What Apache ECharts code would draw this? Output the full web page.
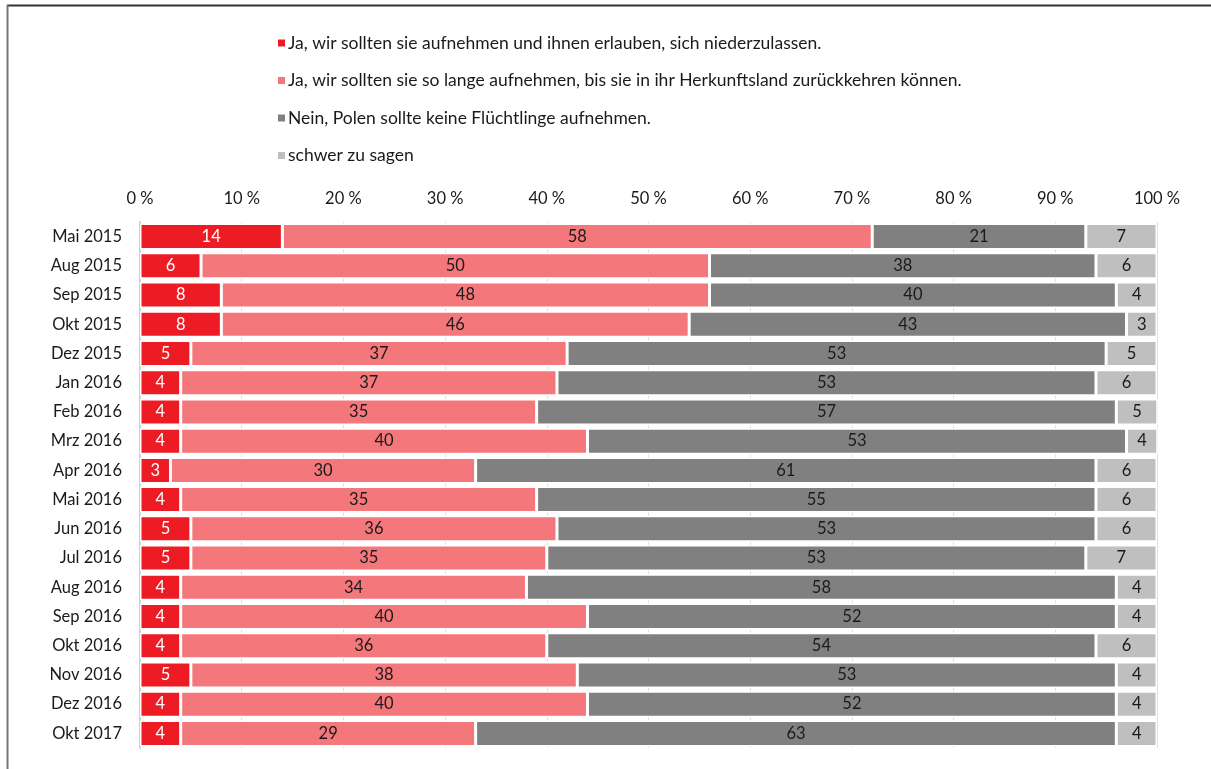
<!DOCTYPE html>
<html>
<head>
<meta charset="utf-8">
<script src="https://cdn.jsdelivr.net/npm/echarts@6/dist/echarts.min.js"></script>
<style>html,body{margin:0;padding:0;background:#fff}#c{width:1211px;height:769px}</style>
</head>
<body>
<div id="c"></div>
<script>
const categories = ['Mai 2015','Aug 2015','Sep 2015','Okt 2015','Dez 2015','Jan 2016','Feb 2016','Mrz 2016','Apr 2016','Mai 2016','Jun 2016','Jul 2016','Aug 2016','Sep 2016','Okt 2016','Nov 2016','Dez 2016','Okt 2017'];
const seriesNames = [
  'Ja, wir sollten sie aufnehmen und ihnen erlauben, sich niederzulassen.',
  'Ja, wir sollten sie so lange aufnehmen, bis sie in ihr Herkunftsland zurückkehren können.',
  'Nein, Polen sollte keine Flüchtlinge aufnehmen.',
  'schwer zu sagen'
];
const jaBleiben = [14,6,8,8,5,4,4,4,3,4,5,5,4,4,4,5,4,4];
const jaZeitweise = [58,50,48,46,37,37,35,40,30,35,36,35,34,40,36,38,40,29];
const nein = [21,38,40,43,53,53,57,53,61,55,53,53,58,52,54,53,52,63];
const schwer = [7,6,4,3,5,6,5,4,6,6,6,7,4,4,6,4,4,4];
const colors = ['#ED1C24','#F4777B','#808080','#BFBFBF'];
const labelColors = ['#ffffff','#1a1a1a','#1a1a1a','#1a1a1a'];
const FONT = 'Lato';

const dataSets = [jaBleiben, jaZeitweise, nein, schwer];
const chart = echarts.init(document.getElementById('c'));
chart.setOption({
  animation: false,
  textStyle: {fontFamily: FONT},
  graphic: [
    {type:'line', shape:{x1:7,y1:5.5,x2:1211,y2:5.5}, style:{stroke:'#333', lineWidth:2}},
    {type:'line', shape:{x1:7.5,y1:5,x2:7.5,y2:769}, style:{stroke:'#777', lineWidth:2}}
  ],
  legend: {
    orient: 'vertical',
    left: 271,
    top: 28,
    itemWidth: 9,
    itemHeight: 9,
    itemGap: 17.5,
    icon: 'rect',
    textStyle: {fontFamily: FONT, fontSize: 17.5, color: '#1a1a1a', lineHeight: 20, padding:[0,0,0,-3]},
    data: seriesNames
  },
  grid: {left: 140, right: 54, top: 222, bottom: 21},
  xAxis: {
    type: 'value', position: 'top', min: 0, max: 100, interval: 10,
    axisLine: {show: false}, axisTick: {show: false},
    axisLabel: {formatter: '{value} %', fontFamily: FONT, fontSize: 16.5, color: '#1a1a1a', margin: 15},
    splitLine: {lineStyle: {color: '#e0e0e0', width: 1}}
  },
  yAxis: {
    type: 'category', inverse: true, data: categories,
    axisLine: {show: true, lineStyle: {color: '#d0d0d0', width: 2}},
    axisTick: {show: false},
    axisLabel: {fontFamily: FONT, fontSize: 16.5, color: '#1a1a1a', margin: 18}
  },
  series: seriesNames.map((n, i) => ({
    name: n, type: 'bar', stack: 'all', barCategoryGap: '11%',
    data: dataSets[i],
    itemStyle: {color: colors[i], borderColor: '#ffffff', borderWidth: 1.5},
    label: {show: true, position: 'inside', color: labelColors[i], fontFamily: FONT, fontSize: 16.5}
  }))
});
</script>
</body>
</html>
